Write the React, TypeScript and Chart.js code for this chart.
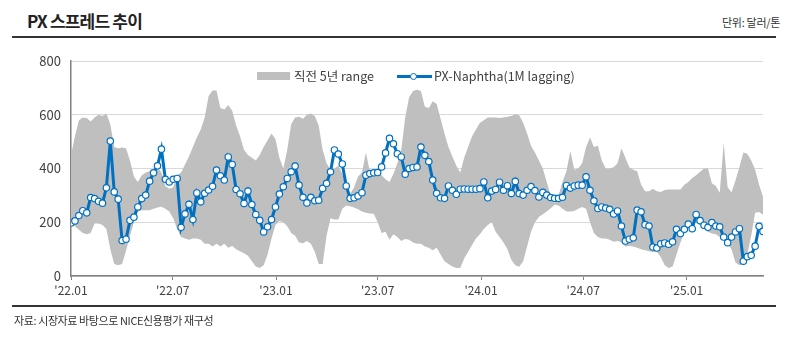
import React, { useEffect, useRef } from 'react';
import { Chart, registerables } from 'chart.js';

Chart.register(...registerables);

// ---- data ----
const START_DATE = '2022-01-01'; // first weekly observation
const TICK_LABELS = ["'22.01", "'22.07", "'23.01", "'23.07", "'24.01", "'24.07", "'25.01"];
const Y_TICKS = [0, 200, 400, 600, 800];
const SERIES_LINE = 'PX-Naphtha(1M lagging)';
const SERIES_BAND = '직전 5년 range';

const SPREAD = [
  197, 205, 225, 243, 235, 292, 288, 278, 271, 328,
  502, 313, 286, 132, 137, 207, 219, 257, 288, 301,
  353, 384, 410, 472, 360, 350, 360, 363, 181, 231,
  267, 210, 309, 276, 308, 320, 334, 394, 373, 357,
  443, 415, 322, 306, 270, 316, 266, 229, 207, 164,
  183, 210, 257, 305, 332, 363, 388, 409, 338, 293,
  272, 293, 280, 282, 326, 345, 388, 469, 454, 417,
  335, 289, 291, 298, 310, 375, 381, 384, 385, 406,
  458, 512, 492, 455, 443, 379, 400, 404, 406, 480,
  449, 426, 357, 308, 291, 289, 335, 319, 304, 323,
  324, 323, 323, 323, 325, 350, 291, 316, 322, 349,
  319, 336, 307, 352, 307, 301, 319, 333, 318, 294,
  311, 301, 292, 289, 289, 293, 337, 327, 335, 338,
  338, 369, 319, 280, 251, 257, 253, 248, 231, 242,
  186, 130, 137, 142, 245, 239, 191, 186, 108, 104,
  120, 123, 118, 127, 174, 158, 174, 193, 176, 229,
  206, 189, 181, 199, 186, 183, 145, 124, 145, 164,
  176, 55, 72, 77, 111, 185, 166,
];

const RANGE_HIGH = [
  450, 520, 580, 590, 588, 575, 590, 600, 595, 605,
  565, 480, 475, 478, 475, 430, 370, 350, 375, 385,
  390, 400, 405, 385, 335, 325, 330, 375, 385, 415,
  445, 480, 515, 545, 590, 670, 690, 690, 625, 620,
  636, 615, 560, 520, 470, 450, 440, 430, 450, 480,
  505, 530, 510, 440, 400, 470, 565, 590, 593, 585,
  600, 605, 595, 560, 470, 420, 395, 400, 410, 380,
  330, 305, 330, 370, 385, 460, 390, 385, 380, 375,
  360, 350, 380, 420, 470, 590, 665, 688, 693, 688,
  630, 625, 650, 640, 585, 530, 480, 445, 410, 385,
  440, 480, 520, 545, 570, 580, 590, 590, 590, 588,
  590, 593, 595, 602, 598, 570, 530, 485, 460, 430,
  400, 350, 300, 270, 300, 350, 390, 465, 395, 400,
  420, 480, 515, 480, 485, 430, 400, 400, 405, 420,
  475, 440, 405, 395, 390, 340, 315, 315, 325, 315,
  313, 320, 322, 322, 322, 322, 340, 350, 365, 375,
  388, 400, 400, 345, 335, 310, 495, 330, 312, 355,
  405, 460, 455, 430, 395, 340, 295,
];

const RANGE_LOW = [
  200, 185, 172, 160, 155, 160, 195, 195, 190, 175,
  100, 45, 40, 45, 95, 150, 200, 240, 245, 245,
  245, 250, 255, 258, 250, 240, 215, 175, 145, 140,
  135, 140, 140, 135, 120, 120, 110, 120, 110, 120,
  105, 112, 100, 92, 85, 75, 55, 35, 30, 40,
  80, 140, 190, 205, 200, 185, 160, 150, 125, 122,
  130, 120, 90, 45, 45, 150, 215, 210, 210, 250,
  262, 260, 255, 248, 240, 235, 233, 232, 200, 160,
  165, 135, 155, 145, 130, 138, 135, 125, 120, 120,
  110, 105, 96, 105, 80, 55, 45, 35, 30, 30,
  65, 90, 115, 140, 155, 175, 190, 200, 165, 145,
  125, 100, 60, 40, 34, 55, 110, 165, 200, 220,
  230, 240, 252, 265, 262, 250, 240, 240, 242, 250,
  257, 250, 200, 160, 145, 140, 140, 135, 127, 130,
  125, 110, 112, 110, 105, 100, 96, 92, 89, 90,
  70, 40, 30, 35, 80, 125, 160, 185, 195, 200,
  190, 178, 165, 158, 155, 145, 135, 120, 100, 50,
  40, 45, 80, 150, 235, 238, 228,
];

// ---- helpers ----
const DAY_MS = 86400000;
const startMs = Date.parse(START_DATE + 'T00:00:00Z');
function tickWeekPos(label: string): number {
  const m = /'(\d{2})\.(\d{2})/.exec(label);
  if (!m) return 0;
  const ms = Date.UTC(2000 + Number(m[1]), Number(m[2]) - 1, 1);
  return (ms - startMs) / DAY_MS / 7;
}

const LINE_COLOR = '#0070C0';
const BAND_COLOR = '#BFBFBF';
const TEXT_COLOR = '#404040';
const AXIS_COLOR = '#808080';
const GRID_COLOR = '#D9D9D9';
const FONT = '"Noto Sans CJK KR", "Noto Sans", sans-serif';

export default function App() {
  const canvasRef = useRef<HTMLCanvasElement | null>(null);

  useEffect(() => {
    if (!canvasRef.current) return;
    const toXY = (arr: number[]) => arr.map((v, i) => ({ x: i, y: v }));
    const chart = new Chart(canvasRef.current, {
      type: 'line',
      data: {
        datasets: [
          {
            label: SERIES_LINE,
            data: toXY(SPREAD),
            borderColor: LINE_COLOR,
            borderWidth: 3,
            pointRadius: 3.2,
            pointBackgroundColor: '#FFFFFF',
            pointBorderColor: LINE_COLOR,
            pointBorderWidth: 1.2,
            tension: 0,
            fill: false,
            order: 0,
          },
          {
            label: SERIES_BAND,
            data: toXY(RANGE_HIGH),
            borderWidth: 0,
            borderColor: BAND_COLOR,
            backgroundColor: BAND_COLOR,
            pointRadius: 0,
            tension: 0,
            fill: '+1',
            order: 1,
          },
          {
            label: SERIES_BAND + ' low',
            data: toXY(RANGE_LOW),
            borderWidth: 0,
            borderColor: BAND_COLOR,
            backgroundColor: BAND_COLOR,
            pointRadius: 0,
            tension: 0,
            fill: false,
            order: 2,
          },
        ],
      },
      options: {
        animation: false,
        responsive: false,
        maintainAspectRatio: false,
        layout: { padding: { left: 0, right: 37, top: 61, bottom: 33 } },
        plugins: { legend: { display: false }, tooltip: { enabled: false } },
        scales: {
          x: {
            type: 'linear',
            min: 0,
            max: SPREAD.length - 1,
            afterBuildTicks: (scale: any) => {
              scale.ticks = TICK_LABELS.map((l) => ({ value: tickWeekPos(l) }));
            },
            afterFit: (scale: any) => {
              scale.height = 30;
            },
            ticks: {
              autoSkip: false,
              maxRotation: 0,
              padding: 3,
              color: TEXT_COLOR,
              font: { family: FONT, size: 12 },
              callback: (_v: any, i: number) => TICK_LABELS[i] ?? '',
            },
            grid: { drawOnChartArea: false, drawTicks: true, tickLength: 4, color: AXIS_COLOR },
            border: { color: AXIS_COLOR, width: 1.5 },
          },
          y: {
            min: 0,
            max: 800,
            afterBuildTicks: (scale: any) => {
              scale.ticks = Y_TICKS.map((v) => ({ value: v }));
            },
            afterFit: (scale: any) => {
              scale.width = 71;
            },
            ticks: {
              padding: 10,
              color: TEXT_COLOR,
              font: { family: FONT, size: 13 },
            },
            grid: { color: GRID_COLOR, drawTicks: false, lineWidth: 1 },
            border: { color: AXIS_COLOR, width: 1.5 },
          },
        },
      },
    } as any);
    return () => chart.destroy();
  }, []);

  const textBase: React.CSSProperties = {
    position: 'absolute',
    fontFamily: FONT,
    color: '#333',
    whiteSpace: 'nowrap',
  };

  return (
    <div style={{ position: 'absolute', left: 0, top: 0, width: 800, height: 339, background: '#fff', overflow: 'hidden' }}>
      <div style={{ ...textBase, left: 27, top: 10, fontSize: 17, fontWeight: 700, letterSpacing: -0.8, lineHeight: '22px', color: '#222' }}>
        PX 스프레드 추이
      </div>
      <div style={{ ...textBase, left: 722, top: 14, fontSize: 11, lineHeight: '16px', letterSpacing: -0.3 }}>
        단위: 달러/톤
      </div>
      <div style={{ position: 'absolute', left: 12, top: 36, width: 764, height: 2, background: '#333' }} />

      <canvas ref={canvasRef} width={800} height={339} style={{ position: 'absolute', left: 0, top: 0, width: 800, height: 339 }} />

      {/* legend */}
      <div style={{ position: 'absolute', left: 257, top: 72, width: 33, height: 8, background: BAND_COLOR }} />
      <div style={{ ...textBase, left: 294, top: 68, fontSize: 12.5, lineHeight: '16px', color: TEXT_COLOR }}>{SERIES_BAND}</div>
      <div style={{ position: 'absolute', left: 397, top: 74.5, width: 35, height: 3, background: LINE_COLOR }} />
      <div style={{ position: 'absolute', left: 410, top: 72.5, width: 5, height: 5, borderRadius: '50%', background: '#fff', border: `1px solid ${LINE_COLOR}` }} />
      <div style={{ ...textBase, left: 434, top: 68, fontSize: 12.5, lineHeight: '16px', color: TEXT_COLOR }}>{SERIES_LINE}</div>

      <div style={{ position: 'absolute', left: 12, top: 305, width: 764, height: 2, background: '#333' }} />
      <div style={{ ...textBase, left: 14, top: 312, fontSize: 11, lineHeight: '16px', letterSpacing: -0.4 }}>
        자료: 시장자료 바탕으로 NICE신용평가 재구성
      </div>
    </div>
  );
}
